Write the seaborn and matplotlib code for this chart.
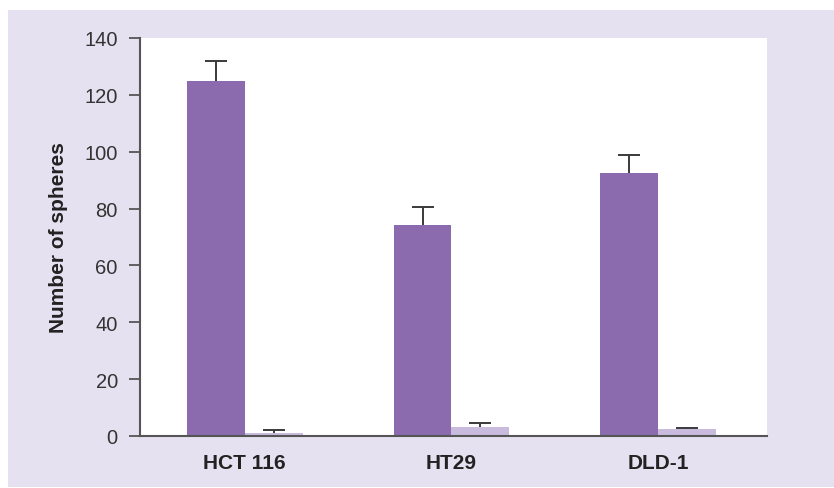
import numpy as np
import pandas as pd
import matplotlib
matplotlib.use("Agg")
import matplotlib.pyplot as plt
import seaborn as sns
from matplotlib.patches import Rectangle

categories = ["HCT 116", "HT29", "DLD-1"]
groups = ["Control", "Treated"]
values_control = [125, 74.3, 92.5]
errors_control = [7, 6.3, 6.3]
values_treated = [1.0, 3.2, 2.3]
errors_treated = [1.2, 1.3, 0.6]
yticks = [0, 20, 40, 60, 80, 100, 120, 140]

colors = ["#8b6bae", "#c9bbdd"]
bg = "#e6e1f0"

df = pd.DataFrame({
    "cell": categories * 2,
    "group": [groups[0]] * 3 + [groups[1]] * 3,
    "value": values_control + values_treated,
})

sns.set_style("white")
plt.rcParams["font.family"] = ["Liberation Sans", "DejaVu Sans"]

W, H = 834, 489
fig = plt.figure(figsize=(W / 100, H / 100), dpi=100)
fig.patch.set_facecolor("white")
fig.add_artist(Rectangle((8 / W, 1 / H), 1 - 8 / W, (488 - 11) / H,
                         transform=fig.transFigure, facecolor=bg,
                         edgecolor="none", zorder=0))

ax = fig.add_axes([140 / W, (H - 437) / H, 627 / W, 398 / H])
ax.set_facecolor("white")
ax.set_zorder(1)

sns.barplot(data=df, x="cell", y="value", hue="group", order=categories,
            hue_order=groups, palette=colors, width=0.56, gap=0,
            errorbar=None, legend=False, saturation=1, ax=ax,
            edgecolor="none")

errs = [errors_control, errors_treated]
vals = [values_control, values_treated]
bar_containers = list(ax.containers)
for ci, cont in enumerate(bar_containers):
    xs = [b.get_x() + b.get_width() / 2 for b in cont.patches]
    eb = ax.errorbar(xs, vals[ci], yerr=[np.zeros(3), errs[ci]], fmt="none",
                     ecolor="#3a3a3a", elinewidth=1.4, capsize=8,
                     capthick=1.4, zorder=3)
    caps = eb.lines[1]
    if len(caps) >= 1:
        caps[0].set_visible(False)

ax.set_ylim(0, 140)
ax.set_xlim(-0.507, 2.527)
ax.set_yticks(yticks)
ax.set_yticklabels([str(t) for t in yticks], fontsize=14.5, color="#333333")
ax.tick_params(axis="y", which="both", left=True, length=8, width=1.3,
               color="#555555", pad=8, direction="out")
ax.tick_params(axis="x", bottom=False, length=0, pad=12)
for lbl in ax.get_xticklabels():
    lbl.set_fontsize(15)
    lbl.set_fontweight("bold")
    lbl.set_color("#222222")
ax.set_xlabel("")
ax.set_ylabel("Number of spheres", fontsize=15, fontweight="bold",
              color="#222222", labelpad=12)

for s in ["top", "right"]:
    ax.spines[s].set_visible(False)
for s in ["left", "bottom"]:
    ax.spines[s].set_color("#555555")
    ax.spines[s].set_linewidth(1.5)

fig.savefig("out.png", dpi=100, facecolor="white")
